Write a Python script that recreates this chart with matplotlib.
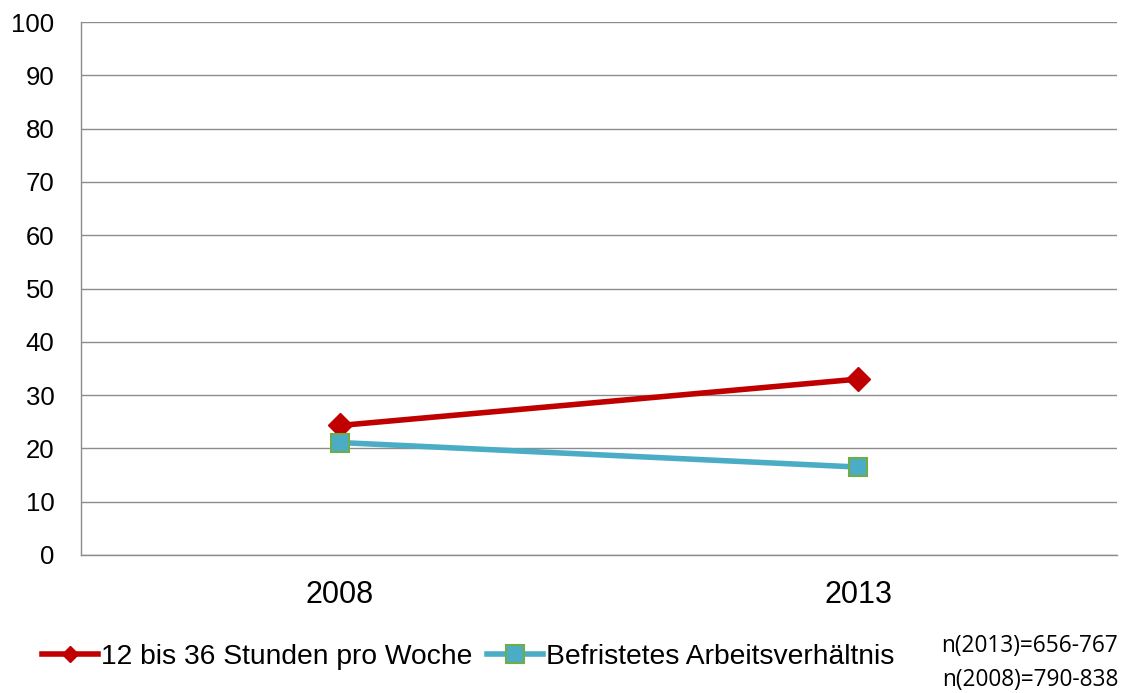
import matplotlib
matplotlib.use("Agg")
import matplotlib.pyplot as plt

years = ["2008", "2013"]
series_names = ["12 bis 36 Stunden pro Woche", "Befristetes Arbeitsverhältnis"]
red_values = [24.3, 33.0]
blue_values = [21.1, 16.5]
yticks = list(range(0, 101, 10))
note_lines = ["n(2013)=656-767", "n(2008)=790-838"]

plt.rcParams['font.family'] = ['Liberation Sans', 'DejaVu Sans']

fig = plt.figure(figsize=(11.31, 6.93), dpi=100)
ax = fig.add_axes([81/1131, 1-555/693, (1117-81)/1131, (555-22)/693])

x = list(range(len(years)))
ax.plot(x, red_values, color="#C00000", lw=4, marker="D", ms=12,
        mfc="#C00000", mec="#C00000", label=series_names[0], zorder=3)
ax.plot(x, blue_values, color="#4BACC6", lw=4, marker="s", ms=13,
        mfc="#4BACC6", mec="#70AD47", mew=1.5, label=series_names[1], zorder=3)

ax.set_xlim(-0.5, 1.5)
ax.set_ylim(0, 100)
ax.set_yticks(yticks)
ax.set_yticklabels([str(t) for t in yticks], fontsize=18.5)
ax.set_xticks(x)
ax.set_xticklabels(years, fontsize=22)
ax.tick_params(axis="y", length=0, pad=19)
ax.tick_params(axis="x", length=0, pad=18)
ax.grid(axis="y", color="#8C8C8C", lw=1)
ax.set_axisbelow(True)
for s in ["top", "right"]:
    ax.spines[s].set_visible(False)
for s in ["left", "bottom"]:
    ax.spines[s].set_color("#8C8C8C")
    ax.spines[s].set_linewidth(1)

leg = fig.legend(loc="center left", bbox_to_anchor=(42/1131, 1-657/693), ncol=2,
                 frameon=False, fontsize=20.3, handlelength=2.0, handletextpad=0.1,
                 columnspacing=0.5, borderaxespad=0, borderpad=0)
hs = leg.legend_handles
hs[0].set_markersize(8)
hs[1].set_markersize(13)

fig.text(1118/1131, 1-646/693, note_lines[0], ha="right", va="center",
         fontsize=16.3, family=["Open Sans", "DejaVu Sans"])
fig.text(1118/1131, 1-680/693, note_lines[1], ha="right", va="center",
         fontsize=16.3, family=["Open Sans", "DejaVu Sans"])

fig.savefig("out.png", dpi=100)
